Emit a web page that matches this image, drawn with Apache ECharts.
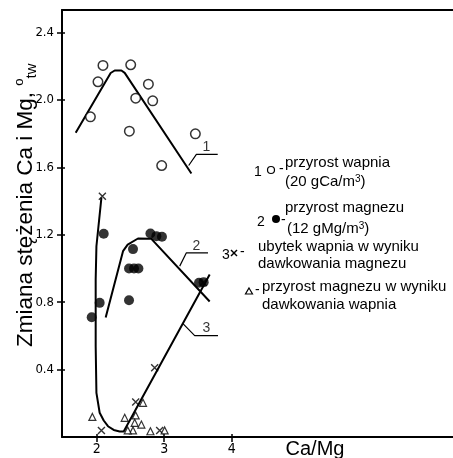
<!DOCTYPE html>
<html><head><meta charset="utf-8">
<script src="https://cdn.jsdelivr.net/npm/echarts@6/dist/echarts.min.js"></script>
<style>html,body{margin:0;padding:0;background:#fff}#c{width:453px;height:458px}</style>
</head><body><div id="c"></div>
<script>
// Axis ticks
const xTicks = [2, 3, 4];
const yTicks = [0.4, 0.8, 1.2, 1.6, 2.0, 2.4];

// 1: przyrost wapnia (open circles)
const caIncrease = [[2.093,2.205],[2.504,2.209],[2.019,2.108],[2.766,2.094],[2.578,2.011],[2.830,1.995],[1.907,1.900],[2.484,1.815],[3.462,1.799],[2.963,1.611]];
// 2: przyrost magnezu (filled circles)
const mgIncrease = [[2.104,1.206],[2.796,1.208],[2.884,1.192],[2.967,1.188],[2.538,1.115],[2.479,1.0],[2.553,1.0],[2.618,1.0],[2.479,0.812],[2.044,0.796],[1.926,0.711],[3.516,0.915],[3.585,0.919]];
// 3: ubytek wapnia w wyniku dawkowania magnezu (crosses)
const caLoss = [[2.084,1.429],[2.07,0.039],[2.578,0.208],[2.859,0.411],[2.933,0.039],[3.578,0.917]];
// 4: przyrost magnezu w wyniku dawkowania wapnia (triangles)
const mgByCa = [[1.936,0.119],[2.415,0.114],[2.578,0.128],[2.563,0.084],[2.662,0.074],[2.538,0.039],[2.796,0.034],[2.686,0.203],[3.007,0.039],[2.46,0.039]];

// Trend curves
const curve1 = [[1.689,1.805],[2.207,2.16],[2.267,2.175],[2.366,2.175],[2.415,2.161],[3.403,1.564]];
const curve2 = [[2.133,0.709],[2.39,1.103],[2.459,1.142],[2.612,1.178],[2.81,1.176],[3.674,0.804]];
const curve3 = [[2.07,1.42],[1.996,1.132],[1.985,0.935],[1.985,0.539],[1.996,0.262],[2.044,0.144],[2.104,0.098],[2.167,0.064],[2.252,0.042],[2.341,0.033],[2.4,0.033],[3.674,0.964]];

// Curve number leaders
const leader1 = [[3.363,1.611],[3.477,1.677],[3.793,1.677]];
const leader2 = [[3.23,1.014],[3.329,1.093],[3.649,1.093]];
const leader3 = [[3.274,0.674],[3.452,0.602],[3.797,0.602]];
const leaderLabels = [[3.625,1.718,'1'],[3.477,1.132,'2'],[3.625,0.648,'3']];

const FONT = "'Liberation Sans', Arial, sans-serif";
const NARROW = "'Liberation Sans Narrow', 'DejaVu Sans Condensed', 'Liberation Sans', sans-serif";
const X_PATH = 'path://M0,0L10,10M10,0L0,10';

function lineSeries(data, w) {
  return { type: 'line', data: data, showSymbol: false, symbol: 'none', smooth: false,
    lineStyle: { color: '#000', width: w }, z: 2, silent: true, animation: false };
}

const chart = echarts.init(document.getElementById('c'), null, { renderer: 'canvas' });
const txt = (t, x, y, extra) => Object.assign({ type: 'text', x: x, y: y,
  style: Object.assign({ text: t, font: '15px ' + FONT, fill: '#000', textAlign: 'left', textVerticalAlign: 'middle' }, extra || {}) });
const supRich = { s: { fontSize: 10, verticalAlign: 'top', fontFamily: FONT, lineHeight: 16 }, n: { fontSize: 15, fontFamily: FONT, lineHeight: 16 } };
const XMIN = 1.486, XMAX = 7.279, YMIN = 0, YMAX = 2.534;

chart.setOption({
  animation: false,
  backgroundColor: '#fff',
  grid: { left: 62, top: 10, right: 0, bottom: 21 },
  xAxis: [{
    type: 'value', min: XMIN, max: XMAX,
    axisLine: { show: true, lineStyle: { color: '#000', width: 2 } },
    axisTick: { show: true, customValues: xTicks, length: 5, lineStyle: { color: '#000', width: 1.5 } },
    axisLabel: { customValues: xTicks, color: '#000', fontSize: 14, fontFamily: NARROW, margin: 5 },
    splitLine: { show: false }
  }, {
    type: 'value', min: XMIN, max: XMAX, position: 'top',
    axisLine: { show: true, onZero: false, lineStyle: { color: '#000', width: 2 } },
    axisTick: { show: false }, axisLabel: { show: false }, splitLine: { show: false }
  }, {
    type: 'value', min: XMIN, max: XMAX, position: 'bottom',
    axisLine: { show: false },
    axisTick: { show: true, inside: true, customValues: xTicks, length: 3, lineStyle: { color: '#000', width: 1.5 } },
    axisLabel: { show: false }, splitLine: { show: false }
  }],
  yAxis: [{
    type: 'value', min: YMIN, max: YMAX,
    axisLine: { show: true, lineStyle: { color: '#000', width: 2 } },
    axisTick: { show: true, customValues: yTicks, length: 5, lineStyle: { color: '#000', width: 1.5 } },
    axisLabel: { customValues: yTicks, color: '#000', fontSize: 13, fontFamily: NARROW, margin: 8,
      formatter: v => v.toFixed(1) },
    splitLine: { show: false }
  }, {
    type: 'value', min: YMIN, max: YMAX, position: 'left',
    axisLine: { show: false },
    axisTick: { show: true, inside: true, customValues: yTicks, length: 3, lineStyle: { color: '#000', width: 1.5 } },
    axisLabel: { show: false }, splitLine: { show: false }
  }],
  series: [
    lineSeries(curve1, 2), lineSeries(curve2, 2), lineSeries(curve3, 2),
    lineSeries(leader1, 1.2), lineSeries(leader2, 1.2), lineSeries(leader3, 1.2),
    { type: 'scatter', data: leaderLabels.map(d => ({ value: [d[0], d[1]], name: d[2] })),
      symbolSize: 0, label: { show: true, position: 'inside', formatter: '{b}', color: '#000', fontSize: 14, fontFamily: FONT }, z: 3 },
    { type: 'scatter', data: caIncrease, symbol: 'circle', symbolSize: 9.5,
      itemStyle: { color: '#fff', borderColor: '#000', borderWidth: 1.5 }, z: 5 },
    { type: 'scatter', data: mgIncrease, symbol: 'circle', symbolSize: 10,
      itemStyle: { color: '#000' }, z: 5 },
    { type: 'scatter', data: caLoss, symbol: X_PATH, symbolSize: 7,
      itemStyle: { color: 'none', borderColor: '#000', borderWidth: 1.4 }, z: 5 },
    { type: 'scatter', data: mgByCa, symbol: 'triangle', symbolSize: 7,
      itemStyle: { color: '#fff', borderColor: '#000', borderWidth: 1.2 }, z: 5 }
  ],
  graphic: [
    // y axis title
    { type: 'text', x: 26, y: 347, rotation: Math.PI / 2,
      style: { text: '{m|Zmiana stężenia Ca i Mg, }{s|o}{t|tw}', fill: '#000', textAlign: 'left', textVerticalAlign: 'middle',
        rich: { m: { fontSize: 22.5, fontFamily: FONT, lineHeight: 26 },
                 s: { fontSize: 13, fontFamily: FONT, verticalAlign: 'top', lineHeight: 26 },
                 t: { fontSize: 15, fontFamily: FONT, verticalAlign: 'bottom', lineHeight: 26 } } } },
    // x axis title
    txt('Ca/Mg', 315, 449, { font: '20px ' + FONT, textAlign: 'center' }),
    // legend row 1
    txt('1', 258, 172, { font: '14px ' + FONT, textAlign: 'center' }),
    { type: 'circle', shape: { cx: 271, cy: 170, r: 3.5 }, style: { fill: '#fff', stroke: '#000', lineWidth: 1.2 } },
    txt('-', 279, 169, { font: '14px ' + FONT }),
    txt('przyrost wapnia', 285, 163),
    txt('{n|(20 gCa/m}{s|3}{n|)}', 285, 182, { rich: supRich }),
    // legend row 2
    txt('2', 261, 222, { font: '14px ' + FONT, textAlign: 'center' }),
    { type: 'circle', shape: { cx: 276, cy: 219, r: 4 }, style: { fill: '#000' } },
    txt('-', 281, 220, { font: '14px ' + FONT }),
    txt('przyrost magnezu', 285, 208),
    txt('{n|(12 gMg/m}{s|3}{n|)}', 287, 229, { rich: supRich }),
    // legend row 3
    txt('3', 226, 255, { font: '14px ' + FONT, textAlign: 'center' }),
    { type: 'polyline', shape: { points: [[231, 250], [237, 256]] }, style: { stroke: '#000', lineWidth: 1.4 } },
    { type: 'polyline', shape: { points: [[237, 250], [231, 256]] }, style: { stroke: '#000', lineWidth: 1.4 } },
    txt('-', 240, 252, { font: '14px ' + FONT }),
    txt('ubytek wapnia w wyniku', 258, 247),
    txt('dawkowania magnezu', 258, 264),
    // legend row 4
    { type: 'polygon', shape: { points: [[249, 288], [252.5, 294], [245.5, 294]] }, style: { fill: '#fff', stroke: '#000', lineWidth: 1.2 } },
    txt('-', 255, 290, { font: '14px ' + FONT }),
    txt('przyrost magnezu w wyniku', 262, 287),
    txt('dawkowania wapnia', 262, 305)
  ]
});
</script>
</body></html>
